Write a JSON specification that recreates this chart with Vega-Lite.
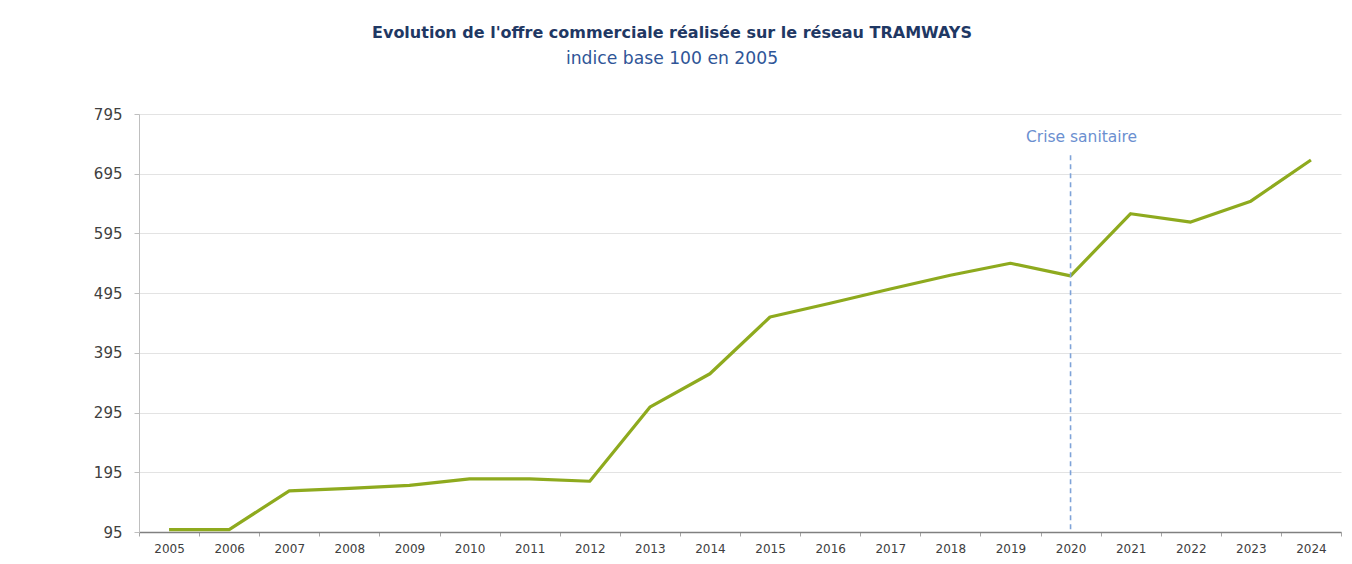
{
  "$schema": "https://vega.github.io/schema/vega-lite/v6.json",
  "autosize": {"type": "none"},
  "width": 1202,
  "height": 418,
  "padding": {"left": 139, "top": 114, "right": 11, "bottom": 32},
  "background": "white",
  "config": {
    "font": "DejaVu Sans",
    "view": {"stroke": null}
  },
  "title": {
    "text": "Evolution de l'offre commerciale réalisée sur le réseau  TRAMWAYS",
    "subtitle": "indice base 100 en 2005",
    "anchor": "middle",
    "dx": -68,
    "offset": 40,
    "font": "DejaVu Sans",
    "fontSize": 16,
    "fontWeight": "bold",
    "color": "#1f3864",
    "subtitleFont": "DejaVu Sans",
    "subtitleFontSize": 17.2,
    "subtitleColor": "#2f5597",
    "subtitlePadding": 9
  },
  "datasets": {
    "series": [
      {"year": "2005", "value": 99},
      {"year": "2006", "value": 99},
      {"year": "2007", "value": 164},
      {"year": "2008", "value": 168},
      {"year": "2009", "value": 173},
      {"year": "2010", "value": 184},
      {"year": "2011", "value": 184},
      {"year": "2012", "value": 180},
      {"year": "2013", "value": 304},
      {"year": "2014", "value": 360},
      {"year": "2015", "value": 455},
      {"year": "2016", "value": 478},
      {"year": "2017", "value": 502},
      {"year": "2018", "value": 525},
      {"year": "2019", "value": 545},
      {"year": "2020", "value": 524},
      {"year": "2021", "value": 628},
      {"year": "2022", "value": 614},
      {"year": "2023", "value": 649},
      {"year": "2024", "value": 718}
    ],
    "annotation": [
      {"year": "2020", "top": 726, "bottom": 95, "labelY": 757, "label": "Crise sanitaire"}
    ]
  },
  "layer": [
    {
      "data": {"name": "series"},
      "mark": {"type": "line", "color": "#8eaa1e", "strokeWidth": 3.2, "strokeJoin": "round"},
      "encoding": {
        "x": {
          "field": "year", "type": "ordinal",
          "scale": {"type": "band", "paddingInner": 0, "paddingOuter": 0},
          "axis": {
            "title": null, "labelAngle": 0, "tickBand": "extent",
            "labelFont": "DejaVu Sans", "labelFontSize": 12, "labelColor": "#404040",
            "labelPadding": 7, "tickSize": 4, "tickColor": "#a6a6a6",
            "domainColor": "#808080", "domainWidth": 1.5, "grid": false
          }
        },
        "y": {
          "field": "value", "type": "quantitative",
          "scale": {"domain": [95, 795], "nice": false, "zero": false},
          "axis": {
            "title": null, "values": [95, 195, 295, 395, 495, 595, 695, 795],
            "labelFont": "DejaVu Sans", "labelFontSize": 15, "labelColor": "#404040",
            "labelPadding": 12, "tickSize": 5, "tickColor": "#bfbfbf",
            "domainColor": "#bfbfbf", "gridColor": "#e3e3e3", "gridWidth": 1.2
          }
        }
      }
    },
    {
      "data": {"name": "annotation"},
      "mark": {"type": "rule", "stroke": "#7fa3d8", "strokeWidth": 1.6, "strokeDash": [5, 4]},
      "encoding": {
        "x": {"field": "year", "type": "ordinal"},
        "y": {"field": "top", "type": "quantitative"},
        "y2": {"field": "bottom"}
      }
    },
    {
      "data": {"name": "annotation"},
      "mark": {"type": "text", "color": "#6b8fd0", "font": "DejaVu Sans", "fontSize": 15.5, "align": "center", "baseline": "middle", "dx": 11},
      "encoding": {
        "x": {"field": "year", "type": "ordinal"},
        "y": {"field": "labelY", "type": "quantitative"},
        "text": {"field": "label"}
      }
    }
  ]
}
